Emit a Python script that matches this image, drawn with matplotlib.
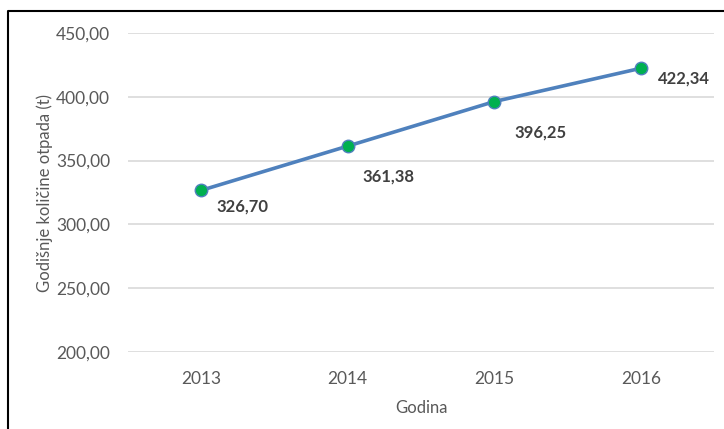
import matplotlib
matplotlib.use("Agg")
import matplotlib.pyplot as plt
from matplotlib.lines import Line2D
from matplotlib.ticker import FuncFormatter

plt.rcParams["font.family"] = ["Lato", "DejaVu Sans"]

# podaci
godine = ["2013", "2014", "2015", "2016"]
kolicine = [326.70, 361.38, 396.25, 422.34]
# pomaci oznaka (pikseli) kao na originalu
pomak_x = [41, 41, 46, 43]
pomak_y = [-16, -30, -31, -10]

fig = plt.figure(figsize=(7.24, 4.29), dpi=100)
W, H = 724, 429
ax = fig.add_axes([128 / W, 1 - 352 / H, (714 - 128) / W, (352 - 33) / H])

x = list(range(len(godine)))
ax.plot(x, kolicine, color="#4F81BD", linewidth=2.6, zorder=3,
        marker="o", markersize=9, markerfacecolor="#00B050",
        markeredgecolor="#4F81BD", markeredgewidth=1.0)

for xi, yi, dx, dy in zip(x, kolicine, pomak_x, pomak_y):
    ax.annotate(f"{yi:.2f}".replace(".", ","), (xi, yi), xytext=(dx * 0.72, dy * 0.72),
                textcoords="offset points", ha="center", va="center",
                fontsize=12, fontweight="bold", color="#404040")

ax.set_xlim(-0.5, 3.5)
ax.set_ylim(200, 450)
ax.set_yticks([200, 250, 300, 350, 400, 450])
ax.yaxis.set_major_formatter(FuncFormatter(lambda v, p: f"{v:.2f}".replace(".", ",")))
ax.set_xticks(x)
ax.set_xticklabels(godine)
ax.tick_params(axis="both", length=0, labelsize=12.5, colors="#595959")
ax.tick_params(axis="y", pad=13)
ax.tick_params(axis="x", pad=14)
ax.grid(True, axis="y", color="#D9D9D9", linewidth=1.2)
ax.set_axisbelow(True)
for s in ax.spines.values():
    s.set_visible(False)

ax.set_xlabel("Godina", fontsize=12, color="#595959", labelpad=9)
ax.set_ylabel("Godišnje količine otpada (t)", fontsize=12, color="#595959", labelpad=2)

# okvir (gornji i lijevi rub)
fig.add_artist(Line2D([8 / W, 8 / W, 1.0], [0.0, 1 - 11 / H, 1 - 11 / H],
                      transform=fig.transFigure, color="black", linewidth=1.5))

fig.savefig("out.png", dpi=100)
